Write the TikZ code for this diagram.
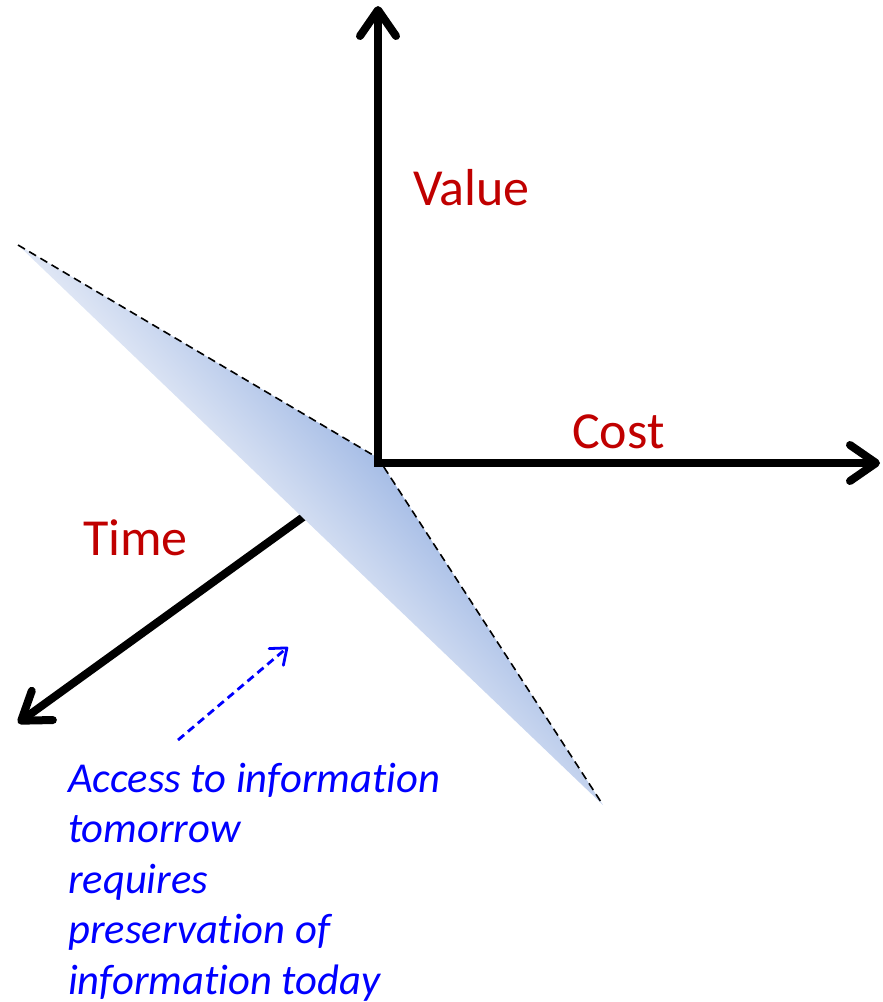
\documentclass[tikz,border=0pt]{standalone}
\usepackage{fontspec}
\setmainfont{Carlito}[Ligatures=NoCommon]
\usetikzlibrary{arrows.meta}
\definecolor{labelred}{RGB}{192,0,0}
\definecolor{noteblue}{RGB}{0,0,255}
\definecolor{planelight}{RGB}{224,231,245}
\definecolor{planedark}{RGB}{166,189,230}

\begin{document}
\begin{tikzpicture}[x=1pt,y=-1pt,
  axistip/.tip={Straight Barb[length=26pt,width=36pt,round]},
  axisline/.style={line width=8pt, line join=miter},
  planeedge/.style={line width=1.6pt, dash pattern=on 8pt off 5pt},
  axislabel/.style={text=labelred, font=\fontsize{52}{62}\selectfont,
    inner sep=0pt, anchor=base west},
  notearrow/.style={noteblue, line width=2.8pt, dash pattern=on 8pt off 5pt,
    -{Straight Barb[length=14pt,width=22pt,round]}},
  notetext/.style={text=noteblue, font=\fontsize{42.6}{50.5}\selectfont\itshape,
    align=left, inner sep=0pt, anchor=base west}]
\useasboundingbox (0,0) rectangle (883,1002);

% axis end points
\coordinate (O) at (378,463);
\coordinate (vtop) at (378,6);
\coordinate (cright) at (880,463);
\coordinate (ttip) at (18,723);

% corners of the plane
\coordinate (A) at (18,245);
\coordinate (B) at (378,458);
\coordinate (C) at (603,805);

% Time axis, partly hidden behind the plane
\draw[axisline, -axistip] (O) -- (ttip);

% shaded plane
\begin{scope}
  \clip (A) -- (B) -- (C) -- cycle;
  \begin{scope}[transform canvas={rotate around={41.8:(A)}}]
    \shade[left color=planelight, right color=planedark]
      (A) ++(0,-900) rectangle ++(126.7,1800);
  \end{scope}
\end{scope}
\draw[planeedge] (A) -- (B) -- (C);

% Value and Cost axes
\draw[axisline, axistip-axistip] (vtop) -- (O) -- (cright);

% axis labels
\node[axislabel] (value) at (413,205) {Value};
\node[axislabel] (cost) at (572,448) {Cost};
\node[axislabel] (time) at (83,555) {Time};

% note and its pointer (the node's base is its last line)
\coordinate (nstart) at (178,740);
\coordinate (ntip) at (288,647);
\draw[notearrow] (nstart) -- (ntip);
\node[notetext] (note) at (68,994)
  {Access to information\\tomorrow\\requires\\preservation of\\information today};
\end{tikzpicture}
\end{document}
